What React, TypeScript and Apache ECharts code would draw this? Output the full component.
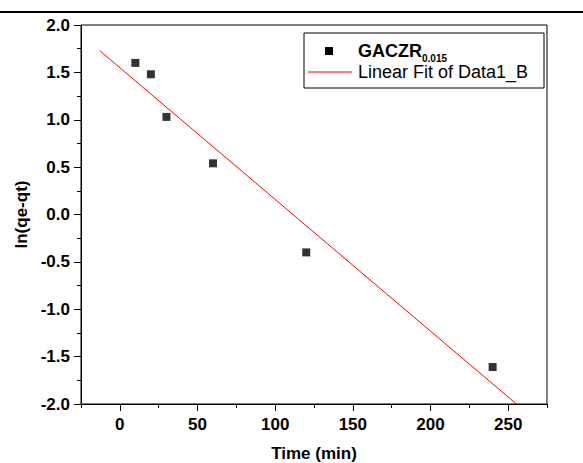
import React, { useEffect, useRef } from 'react';
import * as echarts from 'echarts';

const timeMin = [10, 20, 30, 60, 120, 240];
const lnQeQt = [1.6, 1.48, 1.03, 0.54, -0.4, -1.61];
const fitX = [-13, 255.3];
const fitY = [1.73, -2.0];
const xMajorTicks = [0, 50, 100, 150, 200, 250];
const xMinorTicks = [-25, 25, 75, 125, 175, 225, 275];
const seriesName = 'GACZR';
const seriesSub = '0.015';
const fitName = 'Linear Fit of Data1_B';
const xTitle = 'Time (min)';
const yTitle = 'ln(qe-qt)';

const FONT = '"Liberation Sans", Arial, sans-serif';

export default function App() {
  const ref = useRef<HTMLDivElement>(null);
  useEffect(() => {
    if (!ref.current) return;
    const chart = echarts.init(ref.current, null, { renderer: 'svg' });
    const black = '#000';
    chart.setOption({
      animation: false,
      backgroundColor: '#fff',
      textStyle: { fontFamily: FONT },
      grid: {
        left: 81, right: 36, top: 25, bottom: 59,
        show: true, borderColor: black, borderWidth: 1,
        outerBoundsMode: 'none',
      },
      xAxis: [
        {
          type: 'value', min: -25, max: 275, interval: 25, position: 'bottom',
          axisLine: { show: true, onZero: false, lineStyle: { color: black, width: 1 } },
          axisTick: { show: true, length: 7, customValues: xMajorTicks, lineStyle: { color: black } },
          axisLabel: {
            customValues: xMajorTicks, fontWeight: 'bold', fontSize: 17, color: black,
            fontFamily: FONT, margin: 12,
          },
          splitLine: { show: false },
          name: xTitle, nameLocation: 'middle', nameGap: 41,
          nameTextStyle: { fontWeight: 'bold', fontSize: 17, lineHeight: 17, color: black, fontFamily: FONT },
        },
        {
          type: 'value', min: -25, max: 275, interval: 25, position: 'bottom',
          axisLine: { show: false, onZero: false },
          axisTick: { show: true, length: 4, customValues: xMinorTicks, lineStyle: { color: black } },
          axisLabel: { show: false },
          splitLine: { show: false },
        },
      ],
      yAxis: {
        type: 'value', min: -2, max: 2, interval: 0.5,
        axisLine: { show: true, onZero: false, lineStyle: { color: black, width: 1 } },
        axisTick: { show: true, length: 7, lineStyle: { color: black } },
        minorTick: { show: true, splitNumber: 2, length: 4, lineStyle: { color: black } },
        axisLabel: {
          formatter: (v: number) => v.toFixed(1),
          fontWeight: 'bold', fontSize: 17, color: black, fontFamily: FONT, margin: 11,
        },
        splitLine: { show: false },
        minorSplitLine: { show: false },
        name: yTitle, nameLocation: 'middle', nameGap: 50,
        nameTextStyle: { fontWeight: 'bold', fontSize: 17, color: black, fontFamily: FONT },
      },
      series: [
        {
          type: 'scatter', name: seriesName, xAxisIndex: 0,
          data: timeMin.map((t, i) => [t, lnQeQt[i]]),
          symbol: 'rect', symbolSize: 8,
          itemStyle: { color: black },
        },
        {
          type: 'line', name: fitName, xAxisIndex: 0,
          data: fitX.map((x, i) => [x, fitY[i]]),
          showSymbol: false, symbol: 'none',
          lineStyle: { color: '#ff0000', width: 1 },
        },
      ],
      graphic: [
        { type: 'rect', shape: { x: 0, y: 11, width: 583, height: 2 }, style: { fill: black } },
        {
          type: 'rect', z: 100,
          shape: { x: 304, y: 33, width: 240, height: 55 },
          style: { fill: '#fff', stroke: black, lineWidth: 1 },
        },
        {
          type: 'rect', z: 101,
          shape: { x: 325, y: 47, width: 8, height: 8 },
          style: { fill: black },
        },
        {
          type: 'text', z: 101, x: 358, y: 42,
          style: {
            text: '{m|' + seriesName + '}{s|' + seriesSub + '}',
            fill: black, fontFamily: FONT, verticalAlign: 'top', align: 'left',
            rich: {
              m: { fontSize: 18, fontWeight: 'bold', fontFamily: FONT, fill: black, lineHeight: 18, verticalAlign: 'top' },
              s: { fontSize: 10, fontWeight: 'bold', fontFamily: FONT, fill: black, lineHeight: 10, padding: [11, 0, 0, 0], verticalAlign: 'top' },
            },
          },
        },
        {
          type: 'line', z: 101,
          shape: { x1: 308, y1: 72, x2: 352, y2: 72 },
          style: { stroke: '#ff0000', lineWidth: 1 },
        },
        {
          type: 'text', z: 101, x: 358, y: 72,
          style: {
            text: fitName, fill: black, fontSize: 18, lineHeight: 14,
            fontFamily: FONT, verticalAlign: 'middle', align: 'left',
          },
        },
      ],
    });
    return () => chart.dispose();
  }, []);
  return (
    <div
      ref={ref}
      style={{ position: 'fixed', left: 0, top: 0, width: 583, height: 463, background: '#fff' }}
    />
  );
}
